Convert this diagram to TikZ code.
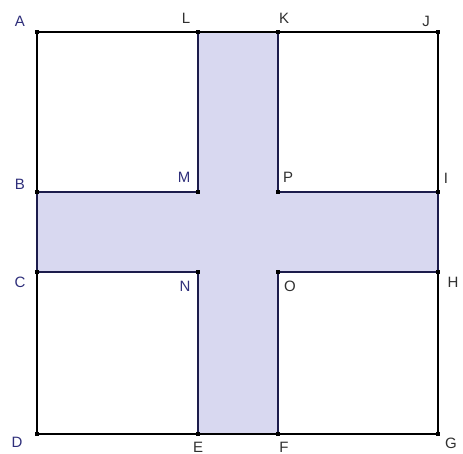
\documentclass[tikz,border=0pt]{standalone}
\usepackage{fontspec}
\setmainfont{Liberation Sans}
\definecolor{crossfill}{HTML}{D8D8F0}
\definecolor{crossline}{HTML}{1C1C4C}
\definecolor{lblblue}{HTML}{2E2E7A}
\definecolor{lblgray}{HTML}{303030}
\begin{document}
\begin{tikzpicture}[x=1pt,y=-1pt,
  pt/.style={fill=black,inner sep=0pt,minimum size=4pt,rectangle},
  lbl/.style={font=\fontsize{15}{15}\selectfont,text=lblgray,inner sep=0pt},
  lblb/.style={lbl,text=lblblue},
  edge/.style={line width=1.2pt}]
\useasboundingbox (0,0) rectangle (463,454);
\coordinate (A) at (37,32);
\coordinate (L) at (198,32);
\coordinate (K) at (278,32);
\coordinate (J) at (438,32);
\coordinate (B) at (37,192);
\coordinate (M) at (198,192);
\coordinate (P) at (278,192);
\coordinate (I) at (438,192);
\coordinate (C) at (37,272);
\coordinate (N) at (198,272);
\coordinate (O) at (278,272);
\coordinate (H) at (438,272);
\coordinate (D) at (37,434);
\coordinate (E) at (198,434);
\coordinate (F) at (278,434);
\coordinate (G) at (438,434);
\fill[crossfill] (L) -- (K) -- (P) -- (I) -- (H) -- (O) -- (F) -- (E) -- (N) -- (C) -- (B) -- (M) -- cycle;
\draw[black,edge] (A) -- (J) -- (G) -- (D) -- cycle;
\draw[crossline,edge] (L) -- (M) -- (B);
\draw[crossline,edge] (K) -- (P) -- (I);
\draw[crossline,edge] (C) -- (N) -- (E);
\draw[crossline,edge] (F) -- (O) -- (H);
\draw[crossline,edge] (B) -- (C);
\draw[crossline,edge] (I) -- (H);
\foreach \p in {A,L,K,J,B,M,P,I,C,N,O,H,D,E,F,G} \node[pt] at (\p) {};
\node[lblb] (tA) at (20,21) {A};
\node[lbl] (tL) at (186,18) {L};
\node[lbl] (tK) at (284,18) {K};
\node[lbl] (tJ) at (426,21) {J};
\node[lblb] (tB) at (20,184) {B};
\node[lblb] (tM) at (184,177) {M};
\node[lbl] (tP) at (288,177) {P};
\node[lbl] (tI) at (446,178) {I};
\node[lblb] (tC) at (20,282) {C};
\node[lblb] (tN) at (185,286) {N};
\node[lbl] (tO) at (290,286) {O};
\node[lbl] (tH) at (453,282) {H};
\node[lblb] (tD) at (17,442) {D};
\node[lbl] (tE) at (198,447) {E};
\node[lbl] (tF) at (284,447) {F};
\node[lbl] (tG) at (451,443) {G};
\end{tikzpicture}
\end{document}
